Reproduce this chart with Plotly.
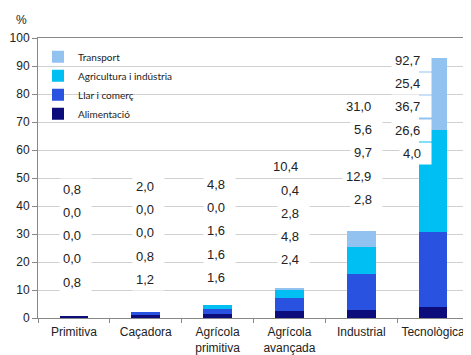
import plotly.graph_objects as go

categories = ["Primitiva", "Caçadora", "Agrícola<br>primitiva", "Agrícola<br>avançada", "Industrial", "Tecnològica"]
alimentacio = [0.8, 1.2, 1.6, 2.4, 2.8, 4.0]
llar_comerc = [0.0, 0.8, 1.6, 4.8, 12.9, 26.6]
agricultura_industria = [0.0, 0.0, 1.6, 2.8, 9.7, 36.7]
transport = [0.0, 0.0, 0.0, 0.4, 5.6, 25.4]
totals = [0.8, 2.0, 4.8, 10.4, 31.0, 92.7]
y_ticks = [0, 10, 20, 30, 40, 50, 60, 70, 80, 90, 100]

# label column layout: top label level (axis units), step, and right-edge offset (px)
label_top = [46, 47, 47.7, 54, 75.6, 92]
label_step = 8.3
label_dx = [8, 9, 8, 11, 12, -11]

colors = {
    "Alimentació": "#0c0c7a",
    "Llar i comerç": "#2a52e0",
    "Agricultura i indústria": "#00bff2",
    "Transport": "#92c2f0",
}

fig = go.Figure()
for name, vals in [("Alimentació", alimentacio), ("Llar i comerç", llar_comerc),
                   ("Agricultura i indústria", agricultura_industria), ("Transport", transport)]:
    fig.add_trace(go.Bar(x=categories, y=vals, name=name, marker_color=colors[name],
                         marker_line_width=0, width=0.4))

def fmt(v):
    return f"{v:.1f}".replace(".", ",")

pad = "<span style='color:white'>0</span>"
annotations = []
for i, cat in enumerate(categories):
    col = [totals[i], transport[i], agricultura_industria[i], llar_comerc[i], alimentacio[i]]
    for j, v in enumerate(col):
        annotations.append(dict(
            x=cat, y=label_top[i] - j * label_step, xref="x", yref="y",
            text=fmt(v) + pad, showarrow=False,
            xanchor="right", xshift=label_dx[i] + 3 + 7,
            font=dict(family="Liberation Sans, Arial", size=13, color="#222"),
            bgcolor="white", borderpad=3,
        ))
annotations.append(dict(x=0, y=1, xref="paper", yref="paper", xshift=-24, yshift=18,
                        text="%", showarrow=False, xanchor="left", yanchor="middle",
                        font=dict(family="Liberation Sans, Arial", size=12, color="#222")))

fig.update_layout(
    barmode="stack",
    width=471, height=355,
    margin=dict(l=30, r=10, t=30, b=45, autoexpand=False),
    paper_bgcolor="white", plot_bgcolor="white",
    showlegend=True,
    legend=dict(x=0.0, y=0.985, xanchor="left", yanchor="top",
                traceorder="reversed", bgcolor="rgba(0,0,0,0)",
                font=dict(family="Lato, Carlito, sans-serif", size=10, color="#222"),
                itemwidth=30, tracegroupgap=0),
    annotations=annotations,
    bargap=0.6,
)
fig.update_xaxes(showline=True, linecolor="#888", linewidth=1, mirror=True,
                 ticks="outside", tickson="boundaries", ticklen=4, tickcolor="#888",
                 tickangle=0, automargin=False,
                 tickfont=dict(family="Liberation Sans, Arial", size=12, color="#222"),
                 ticklabelstandoff=3)
fig.update_yaxes(range=[0, 100], tickvals=y_ticks, showline=True, linecolor="#888",
                 linewidth=1, mirror=True, ticks="outside", ticklen=5, tickcolor="#888",
                 gridcolor="#d0d0d0", gridwidth=1, zeroline=False, automargin=False,
                 tickfont=dict(family="Liberation Sans, Arial", size=12, color="#222"))

fig.write_html("out.html")
